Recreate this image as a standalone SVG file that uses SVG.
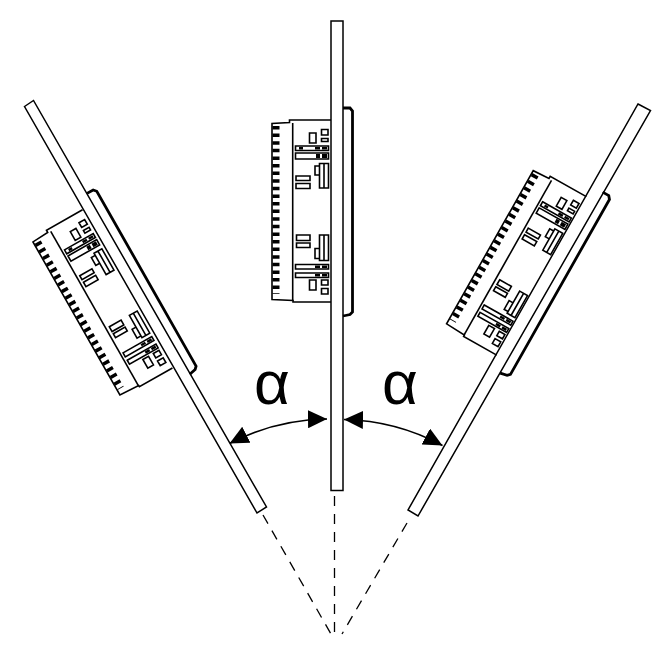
<svg xmlns="http://www.w3.org/2000/svg" width="672" height="666" viewBox="0 0 672 666">
<style>
.p{fill:#fff;stroke:#000;stroke-width:1.5}
.o{fill:none;stroke:#000;stroke-width:1.6}
.h{fill:none;stroke:#000;stroke-width:2.8}
.c{fill:#fff;stroke:#000;stroke-width:1.6}
.b{fill:#000}
.k{fill:none;stroke:#000;stroke-width:7;stroke-dasharray:3.500 4.100}
.d{fill:none;stroke:#000;stroke-width:1.3;stroke-dasharray:10 8}
.a{fill:none;stroke:#000;stroke-width:1.6}
.t{font-family:"Liberation Sans",Arial,sans-serif;font-size:62px;fill:#000}
</style>
<defs>
<marker id="ah" markerUnits="userSpaceOnUse" markerWidth="20" markerHeight="18" refX="19" refY="9" orient="auto-start-reverse"><path d="M0 0L19 9L0 18z" fill="#000"/></marker>
<g id="unit">
<path class="h" d="M343 108H350L352.500 111V312L350 314.500L343 316"/>
<path class="o" d="M331 120H289.500V122.500L272 123.500V299.500L293 300.500V302H331"/>
<path class="o" d="M292.700 123V301"/>
<path class="k" d="M276 126V294"/>
<path class="c" d="M309.500 133H316V143H309.500zM321.500 129.500H328V135H321.500zM321.500 138.500H328V141.500H321.500z"/>
<path class="c" d="M295.500 146H328.500V150.500H295.500zM295.500 153H328.500V159H295.500z"/>
<path class="b" d="M299 147H303V149.500H299zM315 147H320V149.500H315zM322 147H327V149.500H322zM316 154H320V158H316zM322 154H327V158H322z"/>
<path class="c" d="M319.500 163.500H328.500V188H319.500zM324 163.500V188M319.500 166H315V175H319.500"/>
<path class="c" d="M296 176H310V180.500H296zM296 183.500H310V188.500H296z"/>
<path class="c" d="M296.500 235H310V240.500H296.500zM296.500 243H310V247.500H296.500z"/>
<path class="c" d="M319.500 235H328.500V260.500H319.500zM324 235V260.500M319.500 248.500H315V258.500H319.500"/>
<path class="c" d="M295.500 264.500H328.500V269H295.500zM295.500 273H328.500V277.500H295.500z"/>
<path class="b" d="M315 265.500H320V268H315zM322 265.500H327V268H322zM315 274H320V276.500H315zM322 274H327V276.500H322z"/>
<path class="c" d="M309.500 280H316V290H309.500zM321.500 280H328V285H321.500zM321.500 288.500H328V294H321.500z"/>
</g>
</defs>
<g id="connectors">
<path class="d" d="M334.500 496V634"/>
<path class="d" d="M263 515L331 634"/>
<path class="d" d="M407 523L342 634"/>
<path class="a" d="M229.500 443.500A218 218 0 0 1 327 419" marker-start="url(#ah)" marker-end="url(#ah)"/>
<path class="a" d="M344 419.500A218 218 0 0 1 442.500 445.500" marker-start="url(#ah)" marker-end="url(#ah)"/>
</g>
<g id="panel-left">
<path class="p" d="M24.500 106.500L33.500 100.500L266.500 507L257 513z"/>
<use href="#unit" transform="translate(-204 78) rotate(-29.6 331 210)"/>
</g>
<g id="panel-center">
<rect class="p" x="331" y="21" width="12" height="469.500"/>
<use href="#unit"/>
</g>
<g id="panel-right">
<path class="p" d="M638 104L650.500 110.500L418 516L408 510z"/>
<use href="#unit" transform="translate(211 65) rotate(29.5 331 210)"/>
</g>
<g id="labels">
<text class="t" x="254" y="404">α</text>
<text class="t" x="382" y="404">α</text>
</g>
</svg>
